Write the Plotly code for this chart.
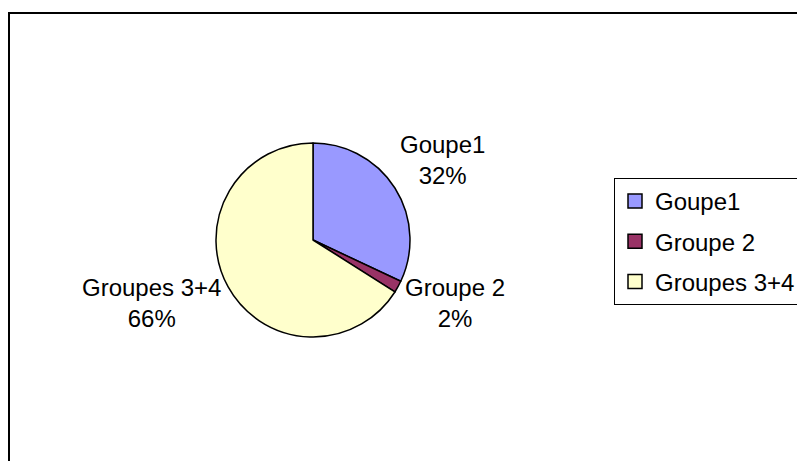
import plotly.graph_objects as go

labels = ["Goupe1", "Groupe 2", "Groupes 3+4"]
values = [32, 2, 66]
colors = ["#9999FF", "#993366", "#FFFFCC"]

W, H = 805, 461
FONT = "Liberation Sans, Arial"

# data-label anchor positions (figure pixels, text centre)
label_pos_px = [(434, 152), (447, 295), (143, 295)]

fig = go.Figure()
fig.add_trace(go.Pie(
    labels=labels,
    values=values,
    sort=False,
    direction="clockwise",
    rotation=0,
    marker=dict(colors=colors, line=dict(color="black", width=1.5)),
    textinfo="none",
    domain=dict(x=[208 / W, 402 / W], y=[1 - 329 / H, 1 - 135 / H]),
    hoverinfo="label+percent",
    showlegend=False,
))

# legend entries (square keys with black outline)
for lab, col in zip(labels, colors):
    fig.add_trace(go.Scatter(
        x=[None], y=[None], mode="markers", name=lab, legendgroup=lab,
        marker=dict(symbol="square", size=14, color=col,
                    line=dict(color="black", width=1.5)),
        hoverinfo="skip",
    ))

total = sum(values)
annotations = []
for lab, v, (px, py) in zip(labels, values, label_pos_px):
    annotations.append(dict(
        x=px / W, y=1 - py / H, xref="paper", yref="paper",
        xanchor="center", yanchor="middle", showarrow=False, align="center",
        text=f"{lab}<br>{round(v / total * 100)}%",
        font=dict(family=FONT, size=24, color="black"),
    ))

fig.update_layout(
    width=W, height=H,
    margin=dict(l=0, r=0, t=0, b=0, autoexpand=False),
    paper_bgcolor="white",
    plot_bgcolor="white",
    font=dict(family=FONT, size=24, color="black"),
    xaxis=dict(visible=False),
    yaxis=dict(visible=False),
    showlegend=True,
    legend=dict(
        x=606 / W, y=1 - 170 / H, xanchor="left", yanchor="top",
        bordercolor="black", borderwidth=1, bgcolor="white",
        font=dict(family=FONT, size=24, color="black"),
        tracegroupgap=6,
    ),
    annotations=annotations,
    shapes=[dict(type="rect", xref="paper", yref="paper",
                 x0=1 / W, x1=1.1, y0=-0.1, y1=1 - 5 / H,
                 line=dict(color="black", width=2))],
)

fig.write_html("out.html")
